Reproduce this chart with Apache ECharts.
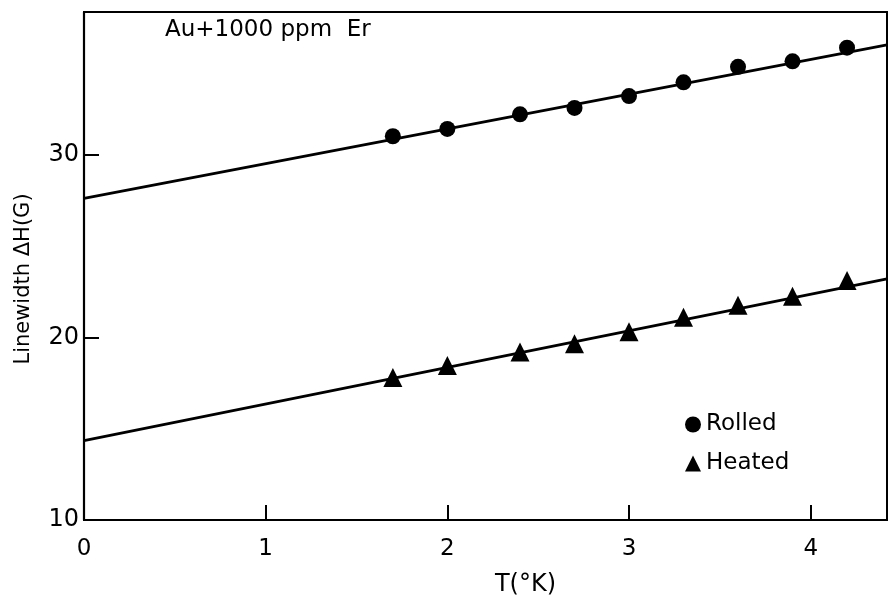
<!DOCTYPE html>
<html>
<head>
<meta charset="utf-8">
<script src="https://cdn.jsdelivr.net/npm/echarts@6/dist/echarts.min.js"></script>
<style>
  body { margin: 0; background: #fff; }
  #chart { width: 890px; height: 602px; }
</style>
</head>
<body>
<div id="chart"></div>
<script>
// temperatures (°K) of the measured points
var tempK = [1.7, 2.0, 2.4, 2.7, 3.0, 3.3, 3.6, 3.9, 4.2];
// linewidth ΔH (G)
var rolled = [31.0, 31.4, 32.2, 32.55, 33.2, 33.95, 34.8, 35.1, 35.85];
var heated = [17.8, 18.45, 19.2, 19.65, 20.3, 21.1, 21.75, 22.25, 23.1];
// fitted straight lines, end points [T, ΔH]
var rolledFit = [[0, 27.6], [4.42, 36.0]];
var heatedFit = [[0, 14.35], [4.42, 23.2]];
var xTicks = [0, 1, 2, 3, 4];
var yTicks = [10, 20, 30];

var font = 'DejaVu Sans';

function pairs(xs, ys) {
  return xs.map(function (x, i) { return [x, ys[i]]; });
}

var chart = echarts.init(document.getElementById('chart'));
chart.setOption({
  animation: false,
  backgroundColor: '#fff',
  textStyle: { fontFamily: font, color: '#000' },
  title: {
    text: 'Au+1000 ppm  Er',
    left: 160,
    top: 14,
    textStyle: { fontFamily: font, fontSize: 23, fontWeight: 'normal', color: '#000' }
  },
  legend: {
    data: [
      { name: 'Rolled', icon: 'circle' },
      { name: 'Heated', icon: 'triangle' }
    ],
    orient: 'vertical',
    left: 680,
    top: 408,
    itemWidth: 16,
    itemHeight: 16,
    itemGap: 16,
    textStyle: { fontFamily: font, fontSize: 23, color: '#000' }
  },
  grid: {
    left: 84, right: 2, top: 12, bottom: 81,
    show: true, borderColor: '#000', borderWidth: 2
  },
  xAxis: {
    type: 'value',
    min: 0, max: 4.42, interval: 1,
    name: 'T(°K)',
    nameLocation: 'middle',
    nameGap: 53,
    nameTextStyle: { fontFamily: font, fontSize: 24, color: '#000', padding: [0, 0, 0, 80] },
    axisLine: { lineStyle: { color: '#000', width: 2.2 } },
    axisTick: { inside: true, length: 15, lineStyle: { color: '#000', width: 2 } },
    axisLabel: {
      fontFamily: font, fontSize: 23, color: '#000', margin: 18,
      formatter: function (v) { return xTicks.indexOf(v) >= 0 ? String(v) : ''; }
    },
    splitLine: { show: false }
  },
  yAxis: {
    type: 'value',
    min: 10, max: 37.8, interval: 10,
    name: 'Linewidth ΔH(G)',
    nameLocation: 'middle',
    nameGap: 50,
    nameRotate: 90,
    nameTextStyle: { fontFamily: font, fontSize: 21, color: '#000', padding: [0, 26, 0, 0] },
    axisLine: { lineStyle: { color: '#000', width: 2.2 } },
    axisTick: { inside: true, length: 15, lineStyle: { color: '#000', width: 2 } },
    axisLabel: {
      fontFamily: font, fontSize: 24, color: '#000', margin: 5,
      formatter: function (v) { return yTicks.indexOf(v) >= 0 ? String(v) : ''; }
    },
    splitLine: { show: false }
  },
  series: [
    {
      name: 'rolled fit', type: 'line', data: rolledFit,
      showSymbol: false, silent: true,
      lineStyle: { color: '#000', width: 2.8 }
    },
    {
      name: 'heated fit', type: 'line', data: heatedFit,
      showSymbol: false, silent: true,
      lineStyle: { color: '#000', width: 2.8 }
    },
    {
      name: 'Rolled', type: 'scatter', data: pairs(tempK, rolled),
      symbol: 'circle', symbolSize: 16,
      itemStyle: { color: '#000', opacity: 1 }
    },
    {
      name: 'Heated', type: 'scatter', data: pairs(tempK, heated),
      symbol: 'triangle', symbolSize: 19,
      itemStyle: { color: '#000', opacity: 1 }
    }
  ]
});
</script>
</body>
</html>
